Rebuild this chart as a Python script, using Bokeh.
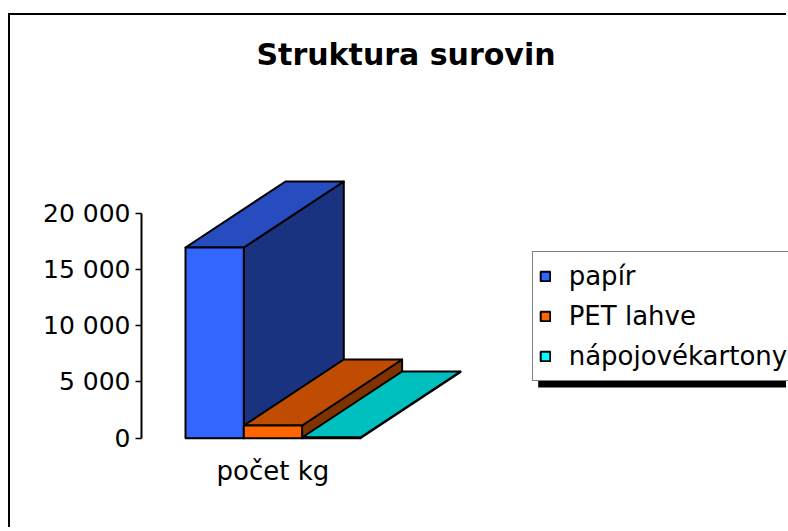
from bokeh.plotting import figure
from bokeh.models import Range1d, FixedTicker, Legend, LegendItem
from bokeh.embed import file_html
from bokeh.resources import INLINE

# ---------------- data ----------------
title_text = "Struktura surovin"
categories = ["počet kg"]
series = ["papír", "PET lahve", "nápojovékartony"]
values = [16950, 1130, 60]
y_ticks = [0, 5000, 10000, 15000, 20000]
y_tick_labels = ["0", "5 000", "10 000", "15 000", "20 000"]
front_colors = ["#3366FF", "#FF6600", "#00FFFF"]
top_colors = ["#264CBF", "#BF4C00", "#00BFBF"]
side_colors = ["#1A3380", "#803300", "#008080"]

# ---------------- layout (pixels on canvas) ----------------
W, H = 778, 514
FRAME_L, FRAME_R, FRAME_T, FRAME_B = 131, 778, 65, 427
Y0_PX = 422.7                 # canvas y of value 0
PX_PER_Y = 225 / 20000        # px per data unit
BAR0_PX = 175                 # canvas x of first bar's front-left edge
BAR_PX = 58.3                 # width of one bar in px (= 1 x unit)
DEPTH_DX_PX, DEPTH_DY_PX = 100, 66


def xd(cx):
    return (cx - BAR0_PX) / BAR_PX


def yd(cy):
    return (Y0_PX - cy) / PX_PER_Y


dx = DEPTH_DX_PX / BAR_PX
dy = DEPTH_DY_PX / PX_PER_Y

p = figure(width=W, height=H, output_backend="svg", toolbar_location=None,
           x_range=Range1d(xd(FRAME_L), xd(FRAME_R)),
           y_range=Range1d(yd(FRAME_B), yd(FRAME_T)),
           min_border_left=FRAME_L, min_border_right=W - FRAME_R,
           min_border_top=FRAME_T, min_border_bottom=H - FRAME_B,
           title=title_text)
p.styles = {"border-top": "2px solid black", "border-left": "2px solid black",
            "position": "relative", "left": "8px", "top": "13px"}
p.outline_line_color = None
p.grid.visible = False
p.background_fill_color = "white"
p.border_fill_color = "white"

p.title.align = "left"
p.title.offset = 115
p.title.standoff = 17
p.title.text_font = "DejaVu Sans"
p.title.text_font_style = "bold"
p.title.text_font_size = "30px"
p.title.text_color = "black"

# y axis
ya = p.yaxis[0]
ya.ticker = FixedTicker(ticks=y_ticks)
ya.major_label_overrides = {t: l for t, l in zip(y_ticks, y_tick_labels)}
ya.bounds = (y_ticks[0], y_ticks[-1])
ya.axis_line_width = 2
ya.axis_line_color = "black"
ya.major_tick_line_width = 1.5
ya.major_tick_line_color = "black"
ya.major_tick_out = 6
ya.major_tick_in = 0
ya.minor_tick_line_color = None
ya.major_label_standoff = 5
ya.major_label_text_font = "DejaVu Sans"
ya.major_label_text_font_size = "25px"
ya.major_label_text_color = "black"

# x axis (single category centered under the bar group)
xa = p.xaxis[0]
cat_center = len(series) / 2
xa.ticker = FixedTicker(ticks=[cat_center])
xa.major_label_overrides = {cat_center: categories[0]}
xa.axis_line_color = None
xa.major_tick_line_color = None
xa.minor_tick_line_color = None
xa.major_label_standoff = 7
xa.major_label_text_font = "DejaVu Sans"
xa.major_label_text_font_size = "26px"
xa.major_label_text_color = "black"

# ---------------- 3D bars ----------------
side_xs, side_ys, top_xs, top_ys = [], [], [], []
for i, v in enumerate(values):
    side_xs.append([i + 1, i + 1 + dx, i + 1 + dx, i + 1])
    side_ys.append([0, dy, v + dy, v])
    top_xs.append([i, i + 1, i + 1 + dx, i + dx])
    top_ys.append([v, v, v + dy, v + dy])

LW = 2
p.patches(side_xs, side_ys, fill_color=side_colors, line_color="black", line_width=LW, line_join="round")
p.patches(top_xs, top_ys, fill_color=top_colors, line_color="black", line_width=LW, line_join="round")
front_renderers = []
for i, v in enumerate(values):
    r = p.quad(left=[i], right=[i + 1], bottom=[0], top=[v], fill_color=front_colors[i],
               line_color="black", line_width=LW)
    front_renderers.append(r)

# ---------------- legend with shadow ----------------
LEG_L, LEG_T, LEG_H = 521.7, 238, 128
LEG_B = LEG_T + LEG_H
p.quad(left=[xd(LEG_L + 6)], right=[xd(W + 40)], top=[yd(LEG_T + 6)], bottom=[yd(LEG_B + 6)],
       fill_color="black", line_color=None)

legend = Legend(items=[LegendItem(label=s, renderers=[r]) for s, r in zip(series, front_renderers)],
                location=(LEG_L - FRAME_L, FRAME_B - LEG_B))
legend.label_text_font = "DejaVu Sans"
legend.label_text_font_size = "26px"
legend.label_text_color = "black"
legend.glyph_width = 12
legend.glyph_height = 12
legend.label_standoff = 18
legend.padding = 6
legend.spacing = 4
legend.label_height = 36
legend.margin = 0
legend.border_line_color = "black"
legend.border_line_width = 1.5
legend.background_fill_color = "white"
legend.background_fill_alpha = 1
p.add_layout(legend)

open("out.html", "w").write(file_html(p, INLINE))
